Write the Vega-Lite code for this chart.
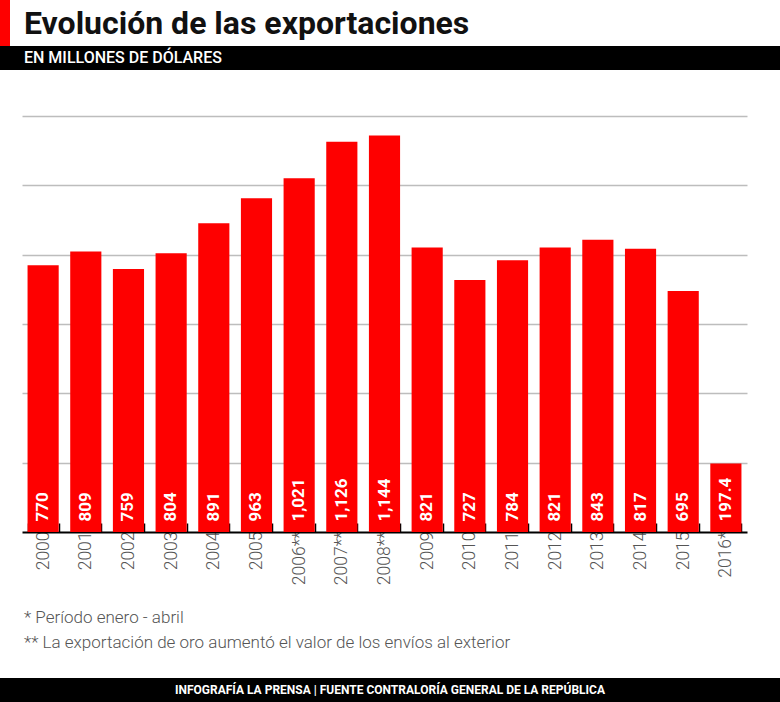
{
  "$schema": "https://vega.github.io/schema/vega-lite/v6.json",
  "padding": 0,
  "background": "white",
  "columns": 1,
  "align": "none",
  "spacing": 0,
  "config": {"view": {"stroke": null}, "font": "Roboto", "concat": {"spacing": 0}},
  "datasets": {
    "exports": [
      {"year": "2000", "value": 770},
      {"year": "2001", "value": 809},
      {"year": "2002", "value": 759},
      {"year": "2003", "value": 804},
      {"year": "2004", "value": 891},
      {"year": "2005", "value": 963},
      {"year": "2006**", "value": 1021},
      {"year": "2007**", "value": 1126},
      {"year": "2008**", "value": 1144},
      {"year": "2009", "value": 821},
      {"year": "2010", "value": 727},
      {"year": "2011", "value": 784},
      {"year": "2012", "value": 821},
      {"year": "2013", "value": 843},
      {"year": "2014", "value": 817},
      {"year": "2015", "value": 695},
      {"year": "2016*", "value": 197.4}
    ],
    "notes": [
      {"line": 1, "text": "* Período enero - abril"},
      {"line": 2, "text": "** La exportación de oro aumentó el valor de los envíos al exterior"}
    ]
  },
  "concat": [
    {
      "spacing": 14,
      "hconcat": [
        {
          "width": 10, "height": 46,
          "view": {"fill": "#fe0000", "stroke": null},
          "data": {"values": [{"t": ""}]},
          "mark": {"type": "text"},
          "encoding": {"text": {"field": "t"}}
        },
        {
          "width": 756, "height": 46,
          "data": {"values": [{"t": "Evolución de las exportaciones"}]},
          "mark": {"type": "text", "align": "left", "baseline": "middle", "fontWeight": "bold", "fontSize": 32, "color": "#111111", "dy": 1},
          "encoding": {
            "text": {"field": "t"},
            "x": {"datum": 0, "type": "quantitative", "scale": {"domain": [0, 1]}, "axis": null}
          }
        }
      ]
    },
    {
      "width": 780, "height": 24,
      "view": {"fill": "#000000", "stroke": null},
      "data": {"values": [{"t": "EN MILLONES DE DÓLARES"}]},
      "mark": {"type": "text", "align": "left", "baseline": "middle", "color": "white", "fontSize": 16, "fontWeight": 500, "dx": 24},
      "encoding": {
        "text": {"field": "t"},
        "x": {"datum": 0, "type": "quantitative", "scale": {"domain": [0, 1]}, "axis": null}
      }
    },
    {
      "spacing": 0,
      "hconcat": [
        {
          "width": 13, "height": 462,
          "data": {"values": [{"t": ""}]},
          "mark": {"type": "text"},
          "encoding": {"text": {"field": "t"}}
        },
        {
          "width": 725, "height": 462,
          "data": {"name": "exports"},
          "encoding": {
            "x": {
              "field": "year", "type": "nominal", "sort": null,
              "scale": {"paddingInner": 0.27, "paddingOuter": 0.13},
              "axis": {
                "title": null, "labelAngle": -90, "labelAlign": "right", "labelBaseline": "middle",
                "labelColor": "#555555", "labelFontSize": 17.5, "labelFontWeight": 300, "labelPadding": 8,
                "domainColor": "#000000", "domainWidth": 2,
                "tickColor": "#000000", "tickWidth": 1.5, "tickSize": -9, "tickBand": "extent",
                "minExtent": 60, "maxExtent": 60
              }
            }
          },
          "layer": [
            {
              "mark": {"type": "bar", "color": "#fe0000"},
              "encoding": {
                "y": {
                  "field": "value", "type": "quantitative",
                  "scale": {"domain": [0, 1333], "nice": false},
                  "axis": {
                    "title": null, "labels": false, "ticks": false, "domain": false, "grid": true,
                    "values": [200, 400, 600, 800, 1000, 1200],
                    "gridColor": "#bdbdbd", "gridWidth": 1.5,
                    "minExtent": 0, "maxExtent": 0
                  }
                }
              }
            },
            {
              "mark": {"type": "text", "angle": 270, "align": "left", "baseline": "middle", "color": "white", "fontWeight": "bold", "fontSize": 17},
              "encoding": {
                "y": {"datum": 30, "type": "quantitative"},
                "text": {"field": "value", "type": "quantitative", "format": ","}
              }
            }
          ]
        }
      ]
    },
    {
      "width": 780, "height": 86,
      "data": {"name": "notes"},
      "mark": {"type": "text", "align": "left", "baseline": "middle", "color": "#555555", "fontSize": 17, "fontWeight": 300, "dx": 24},
      "encoding": {
        "text": {"field": "text"},
        "x": {"datum": 0, "type": "quantitative", "scale": {"domain": [0, 1]}, "axis": null},
        "y": {"field": "line", "type": "ordinal", "scale": {"type": "point", "range": [26, 51], "padding": 0}, "axis": null}
      }
    },
    {
      "width": 780, "height": 24,
      "view": {"fill": "#000000", "stroke": null},
      "data": {"values": [{"t": "INFOGRAFÍA LA PRENSA | FUENTE CONTRALORÍA GENERAL DE LA REPÚBLICA"}]},
      "mark": {"type": "text", "align": "center", "baseline": "middle", "color": "white", "fontSize": 12, "fontWeight": "bold"},
      "encoding": {"text": {"field": "t"}}
    }
  ]
}
